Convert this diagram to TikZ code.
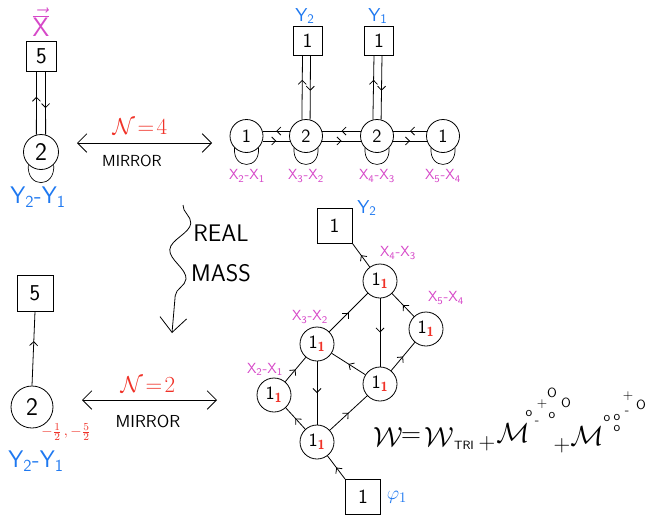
\documentclass[tikz,border=0pt]{standalone}
\usepackage{fontspec}
\usetikzlibrary{arrows.meta,decorations.markings,decorations.pathmorphing,calc}
\definecolor{pk}{RGB}{214,72,200}
\definecolor{bl}{RGB}{30,120,240}
\definecolor{rd}{RGB}{240,50,40}
\begin{document}
\begin{tikzpicture}[x=0.75pt,y=-0.75pt,font=\sffamily,line width=0.6pt,
  gnode/.style={circle,draw,inner sep=0pt,minimum size=#1*0.75pt},
  gnode/.default=33,
  sqbox/.style={draw,inner sep=0pt,minimum size=#1*0.75pt},
  sqbox/.default=30,
  marr/.style={postaction={decorate},decoration={markings,
     mark=at position #1 with {\arrow{Straight Barb[length=3pt,width=6pt]}}}},
  marr/.default=0.5,
  mirr/.style={{Straight Barb[length=7pt,width=14pt]}-{Straight Barb[length=7pt,width=14pt]}},
  pkl/.style={text=pk,font=\sffamily\fontsize{11}{11}\selectfont},
  bll/.style={text=bl,font=\sffamily\fontsize{14}{14}\selectfont},
  num/.style={font=\sffamily\fontsize{#1}{#1}\selectfont},
  loopst/.style={line width=0.5pt},
  fml/.style={font=\fontsize{#1}{#1}\selectfont,inner sep=0pt},
  tok/.style={font=\sffamily\fontsize{10}{10}\selectfont,inner sep=0pt}
]
\useasboundingbox (0,0) rectangle (649,514);

% ---------- top-left ----------
\node[text=pk,font=\sffamily\fontsize{20}{20}\selectfont] (xv) at (41,22) {$\vec{\overline{\mathsf{X}}}$};
\node[sqbox=30,num=17] (b0) at (41.5,56) {5};
\node[gnode=35,num=19] (c0) at (41,152) {2};
\draw[marr=0.6] (c0.105) -- ($(b0.south)+(-5,0)$);
\draw[marr=0.58] ($(b0.south)+(4,0)$) -- (c0.75);
\draw[loopst] (c0.-135) .. controls +(-2,24) and +(2,24) .. (c0.-45);
\node[text=bl,font=\sffamily\fontsize{18}{18}\selectfont] (yl0) at (38,197) {Y\textsubscript{2}-Y\textsubscript{1}};

% top mirror
\coordinate (m1l) at (77,143);
\coordinate (m1r) at (212,143);
\draw[mirr] (m1l) -- (m1r);
\node[text=rd,font=\fontsize{16}{16}\selectfont] (n4) at (140,127) {$\mathcal{N}\!=\!4$};
\node[num=12] (mir1) at (132,161) {MIRROR};

% ---------- top-right ----------
\node[sqbox=29,num=15] (t1) at (307.5,40.5) {1};
\node[sqbox=29,num=15] (t2) at (379,40.5) {1};
\node[bll] (ly2) at (305,16) {Y\textsubscript{2}};
\node[bll] (ly1) at (378,16) {Y\textsubscript{1}};
\node[gnode=33,num=14] (a1) at (246.5,136) {1};
\node[gnode=33,num=14] (a2) at (306,136) {2};
\node[gnode=33,num=14] (a3) at (377,136) {2};
\node[gnode=33,num=14] (a4) at (443,136) {1};
% verticals
\draw[marr=0.62] (a2.104) -- ($(t1.south)+(-5,0)$);
\draw[marr=0.55] ($(t1.south)+(3,0)$) -- (a2.76);
\draw[marr=0.62] (a3.104) -- ($(t2.south)+(-5,0)$);
\draw[marr=0.55] ($(t2.south)+(3,0)$) -- (a3.76);
% horizontals
\draw[marr] (a2.163) -- (a1.17);
\draw[marr] (a1.-17) -- (a2.-163);
\draw[marr] (a3.163) -- (a2.17);
\draw[marr] (a2.-17) -- (a3.-163);
\draw[marr] (a4.163) -- (a3.17);
\draw[marr] (a3.-17) -- (a4.-163);
% loops
\foreach \n in {a1,a2,a3,a4}
  \draw[loopst] (\n.-135) .. controls +(-2,22) and +(2,22) .. (\n.-45);
\node[pkl] (la1) at (247,176) {X\textsubscript{2}-X\textsubscript{1}};
\node[pkl] (la2) at (306,176) {X\textsubscript{3}-X\textsubscript{2}};
\node[pkl] (la3) at (377,176) {X\textsubscript{4}-X\textsubscript{3}};
\node[pkl] (la4) at (443,176) {X\textsubscript{5}-X\textsubscript{4}};

% ---------- middle ----------
\coordinate (sq1) at (183,205);
\coordinate (sq2) at (172,333);
\draw[-{Straight Barb[length=11pt,width=20pt]},decorate,
  decoration={snake,amplitude=7,segment length=42,post length=14}] (sq1) -- (sq2);
\node[num=18] (real) at (221,233) {REAL};
\node[num=18] (mass) at (221,273) {MASS};

% ---------- bottom-left ----------
\node[sqbox=36,num=17] (b5) at (35,293) {5};
\node[gnode=42,num=19] (c5) at (32,407) {2};
\draw[marr=0.6] (c5.north) -- (b5.south);
\node[text=rd,font=\fontsize{11}{11}\selectfont] (fr) at (66,432) {$-\frac{1}{2}\,,-\frac{5}{2}$};
\node[text=bl,font=\sffamily\fontsize{18}{18}\selectfont] (yl5) at (36,461) {Y\textsubscript{2}-Y\textsubscript{1}};

% bottom mirror
\coordinate (m2l) at (82,400);
\coordinate (m2r) at (217,400);
\draw[mirr] (m2l) -- (m2r);
\node[text=rd,font=\fontsize{16}{16}\selectfont] (n2) at (148,385) {$\mathcal{N}\!=\!2$};
\node[num=13] (mir2) at (148,421) {MIRROR};

% ---------- bottom-right ----------
\newcommand{\rn}{1\textsubscript{\textcolor{rd}{\textbf{1}}}}
\node[gnode=34,num=14] (A) at (380,281) {\rn};
\node[gnode=34,num=14] (B) at (426,329) {\rn};
\node[gnode=34,num=14] (C) at (317,344) {\rn};
\node[gnode=34,num=14] (D) at (380,384) {\rn};
\node[gnode=34,num=14] (E) at (274,395) {\rn};
\node[gnode=34,num=14] (F) at (317,442) {\rn};
\node[sqbox=35,num=15] (ya) at (334.5,225.5) {1};
\node[sqbox=35,num=15] (yb) at (363,497) {1};
\node[bll] (lya) at (367,208) {Y\textsubscript{2}};
\node[text=bl,font=\fontsize{15}{15}\selectfont] (lyb) at (397,497) {$\varphi_1$};
\draw[marr] (F) -- (E);
\draw[marr] (E) -- (C);
\draw[marr] (C) -- (F);
\draw[marr] (F) -- (D);
\draw[marr] (D) -- (C);
\draw[marr] (C) -- (A);
\draw[marr] (A) -- (D);
\draw[marr] (D) -- (B);
\draw[marr] (B) -- (A);
\draw[marr] (A) -- (ya.south east);
\draw[marr] (yb.north west) -- (F);
\node[pkl] (lA) at (398,253) {X\textsubscript{4}-X\textsubscript{3}};
\node[pkl] (lB) at (446,298) {X\textsubscript{5}-X\textsubscript{4}};
\node[pkl] (lC) at (310,317) {X\textsubscript{3}-X\textsubscript{2}};
\node[pkl] (lE) at (265,369) {X\textsubscript{2}-X\textsubscript{1}};

% ---------- formula ----------
\node[fml=20] (w1) at (388,437) {$\mathcal{W}$};
\node[fml=20] (eq) at (411,438) {$=$};
\node[fml=20] (w2) at (439,437) {$\mathcal{W}$};
\node[fml=9,font=\sffamily\fontsize{9}{9}\selectfont] (tri) at (464,445) {TRI};
\node[fml=18] (p1) at (487,444) {$+$};
\node[fml=22] (m1) at (513,433) {$\mathcal{M}$};
\node[tok] (s1) at (529,413) {o};
\node[tok] (s2) at (542,404) {+};
\node[tok] (s3) at (552,393) {O};
\node[tok] (s4) at (566,403) {O};
\node[tok] (s5) at (537,423) {-};
\node[tok] (s6) at (552,415) {o};
\node[fml=18] (p2) at (562,446) {$+$};
\node[fml=22] (m2) at (587,436) {$\mathcal{M}$};
\node[tok] (u1) at (607,418) {o};
\node[tok] (u2) at (617,417) {o};
\node[tok] (u3) at (617,428) {o};
\node[tok] (u4) at (628,396) {+};
\node[tok] (u5) at (627,413) {-};
\node[tok] (u6) at (641,405) {O};
\end{tikzpicture}
\end{document}
